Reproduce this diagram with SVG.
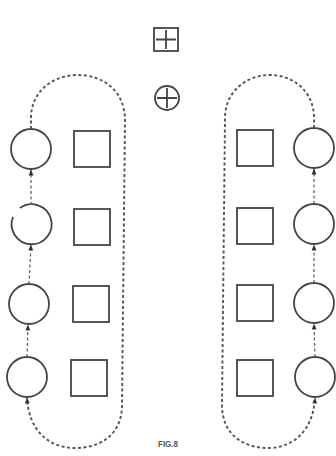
<svg xmlns="http://www.w3.org/2000/svg" width="336" height="456" viewBox="0 0 336 456">
<style>
.node{fill:none;stroke:#444;stroke-width:1.8}
.loop{fill:none;stroke:#555;stroke-width:1.9;stroke-dasharray:3 2.5}
.link{fill:none;stroke:#666;stroke-width:1.3;stroke-dasharray:3 2.5}
.lbl{font-family:"Liberation Sans",Arial,sans-serif;font-size:9px;fill:#555;font-weight:bold}
</style>
<defs>
<marker id="ahb" viewBox="0 0 10 10" refX="9" refY="5" markerWidth="7" markerHeight="6" orient="auto" markerUnits="userSpaceOnUse">
<path d="M0,1 L10,5 L0,9 Z" fill="#333"/>
</marker>
</defs>
<rect width="336" height="456" fill="#fff"/>
<g id="box-plus" class="node"><rect x="154" y="28" width="24" height="23"/><path d="M166,30 V49 M156,39.5 H176"/></g>
<g id="circle-plus" class="node"><circle cx="167" cy="98" r="12"/><path d="M167,88 V108 M157,98 H177"/></g>
<g id="L1"><circle class="node" cx="31" cy="149" r="20"/></g>
<g id="L2"><path class="node" d="M13,217 A20,20 0 1 0 20,208"/></g>
<g id="L3"><circle class="node" cx="29" cy="304" r="20"/></g>
<g id="L4"><circle class="node" cx="27" cy="377" r="20"/></g>
<g id="LS1"><rect class="node" x="74" y="131" width="36" height="36"/></g>
<g id="LS2"><rect class="node" x="74" y="209" width="36" height="36"/></g>
<g id="LS3"><rect class="node" x="73" y="286" width="36" height="36"/></g>
<g id="LS4"><rect class="node" x="71" y="360" width="36" height="36"/></g>
<g id="R1"><circle class="node" cx="314" cy="148" r="20"/></g>
<g id="R2"><circle class="node" cx="314" cy="224" r="20"/></g>
<g id="R3"><circle class="node" cx="314" cy="303" r="20"/></g>
<g id="R4"><circle class="node" cx="315" cy="377" r="20"/></g>
<g id="RS1"><rect class="node" x="237" y="130" width="36" height="36"/></g>
<g id="RS2"><rect class="node" x="237" y="208" width="36" height="36"/></g>
<g id="RS3"><rect class="node" x="237" y="285" width="36" height="36"/></g>
<g id="RS4"><rect class="node" x="237" y="360" width="36" height="36"/></g>
<g id="connectors">
<path class="loop" d="M31,129 L31,118 C31,92 52,75 78,75 C104,75 125,92 125,120 L122,405 C122,435 100,448 75,448 C50,448 29,432 27,398" marker-end="url(#ahb)"/>
<path class="link" d="M27,357 L28,325" marker-end="url(#ahb)"/>
<path class="link" d="M29,284 L31,245" marker-end="url(#ahb)"/>
<path class="link" d="M31,205 L31,170" marker-end="url(#ahb)"/>
<path class="loop" d="M314,128 L314,118 C314,92 294,75 270,75 C246,75 225,92 225,118 L222,405 C222,435 244,448 268,448 C292,448 313,432 315,398" marker-end="url(#ahb)"/>
<path class="link" d="M315,357 L314,324" marker-end="url(#ahb)"/>
<path class="link" d="M314,283 L314,245" marker-end="url(#ahb)"/>
<path class="link" d="M314,204 L314,169" marker-end="url(#ahb)"/>
</g>
<text class="lbl" x="158" y="447" textLength="20" lengthAdjust="spacingAndGlyphs">FIG.8</text>
</svg>
